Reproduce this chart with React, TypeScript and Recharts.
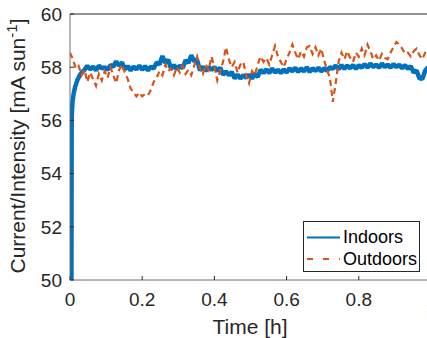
import { LineChart, Line, XAxis, YAxis, ReferenceLine, Legend } from 'recharts';

const FONT = '"Liberation Sans", Arial, sans-serif';
const INDOOR_COLOR = '#0072BD';
const OUTDOOR_COLOR = '#D95319';
const AXIS_TEXT = '#262626';

// x ticks (hours) and y ticks (mA sun^-1)
const timeTicks = [0, 0.2, 0.4, 0.6, 0.8, 1];
const currentTicks = [50, 52, 54, 56, 58, 60];

// indoor start-up transient
const indoorRiseTime = [0.004, 0.0045, 0.005, 0.007, 0.01, 0.014, 0.02, 0.027, 0.034];
const indoorRiseValue = [50, 55.5, 56.2, 56.7, 57.0, 57.25, 57.5, 57.7, 57.82];

// indoor steady part, sampled every 0.008 h from 0.04 h
const indoorStart = 0.04;
const indoorValue = [
  57.9, 58.05, 57.92, 58.02, 57.88, 58.06, 57.95, 58.0, 57.9, 58.08,
  58.02, 58.22, 58.05, 58.18, 57.92, 58.04, 57.88, 58.02, 57.92, 58.06,
  57.9, 58.04, 57.88, 58.02, 57.95, 58.18, 58.1, 58.42, 58.16, 58.28,
  57.94, 58.08, 57.92, 58.06, 57.96, 58.26, 58.16, 58.45, 58.22, 58.28,
  57.88, 58.02, 57.86, 58.0, 57.9, 58.0, 57.86, 57.98, 57.72, 57.84,
  57.7, 57.82, 57.58, 57.72, 57.58, 57.7, 57.6, 57.72, 57.58, 57.74,
  57.64, 57.9, 57.78, 57.92, 57.78, 57.95, 57.8, 57.9, 57.78, 57.92,
  57.8, 57.96, 57.84, 57.98, 57.82, 57.96, 57.84, 58.0, 57.82, 57.96,
  57.86, 57.98, 57.84, 57.96, 57.86, 58.0, 57.94, 58.06, 57.92, 58.08,
  57.94, 58.06, 57.96, 58.08, 57.94, 58.08, 57.98, 58.12, 57.98, 58.14,
  58.0, 58.1, 57.98, 58.14, 58.0, 58.1, 57.98, 58.12, 58.0, 58.1,
  57.96, 58.08, 57.94, 58.04, 57.8, 57.88, 57.58, 57.56, 57.88, 58.0,
];

// outdoor, sampled every 0.008 h from 0 h
const outdoorValue = [
  58.55, 58.3, 57.95, 58.05, 57.7, 57.9, 57.45, 57.8, 57.55, 57.3,
  57.75, 57.5, 57.85, 57.6, 58.0, 57.7, 57.4, 57.9, 58.1, 57.8,
  57.55, 57.2, 57.05, 56.9, 57.05, 56.9, 57.0, 56.95, 57.15, 57.45,
  57.6, 57.85, 57.7, 58.1, 57.85, 57.95, 57.7, 58.0, 57.8, 58.05,
  57.75, 57.9, 57.7, 58.05, 58.4, 57.95, 57.75, 58.1, 57.9, 58.4,
  58.0, 57.5, 57.85, 58.2, 58.75, 58.3, 58.0, 58.2, 57.8, 58.1,
  58.2, 57.7, 57.4, 57.85, 57.7, 58.1, 58.4, 58.2, 58.35, 58.1,
  58.45, 58.8, 58.4, 58.2, 58.0, 58.3, 58.55, 58.85, 58.55, 58.3,
  58.6, 58.4, 58.75, 58.8, 58.5, 58.75, 58.45, 58.7, 58.25, 57.9,
  57.6, 56.7, 57.4, 58.2, 58.55, 58.3, 58.6, 58.35, 58.2, 58.55,
  58.4, 58.7, 58.45, 58.85, 58.6, 58.3, 58.45, 58.25, 58.5, 58.35,
  58.3, 58.55, 58.75, 58.95, 58.85, 58.7, 58.5, 58.55, 58.4, 58.6,
  58.7, 58.45, 58.3, 58.55, 58.7,
];
const SAMPLE_STEP = 0.008;

const indoorData = [
  ...indoorRiseTime.map((t, i) => ({ t, indoors: indoorRiseValue[i] })),
  ...indoorValue.map((v, i) => ({ t: indoorStart + i * SAMPLE_STEP, indoors: v })),
];
const outdoorData = outdoorValue.map((v, i) => ({ t: i * SAMPLE_STEP, outdoors: v }));

function YLabel() {
  return (
    <text
      x={25}
      y={146}
      transform="rotate(-90, 25, 146)"
      textAnchor="middle"
      fontFamily={FONT}
      fontSize={21}
      fill={AXIS_TEXT}
    >
      Current/Intensity [mA sun
      <tspan dy={-8} fontSize={15}>-1</tspan>
      <tspan dy={8}>]</tspan>
    </text>
  );
}

function XLabel() {
  return (
    <text x={250} y={334} textAnchor="middle" fontFamily={FONT} fontSize={21} fill={AXIS_TEXT}>
      Time [h]
    </text>
  );
}

function LegendBox() {
  return (
    <div
      style={{
        position: 'relative',
        width: 117,
        height: 51,
        boxSizing: 'border-box',
        border: '1px solid #262626',
        background: '#fff',
        fontFamily: FONT,
        fontSize: 18,
        color: '#000',
      }}
    >
      <svg width={40} height={51} style={{ position: 'absolute', left: 0, top: 0 }}>
        <line x1={3} x2={36} y1={15.5} y2={15.5} stroke={INDOOR_COLOR} strokeWidth={2} />
        <line x1={3} x2={36} y1={37} y2={37} stroke={OUTDOOR_COLOR} strokeWidth={2} strokeDasharray="6 10" />
      </svg>
      <span style={{ position: 'absolute', left: 39, top: 4, lineHeight: '22px' }}>Indoors</span>
      <span style={{ position: 'absolute', left: 39, top: 26, lineHeight: '22px' }}>Outdoors</span>
    </div>
  );
}

export default function App() {
  return (
    <div
      style={{
        position: 'absolute',
        left: 0,
        top: 0,
        width: 427,
        height: 338,
        overflow: 'hidden',
        background: '#fff',
      }}
    >
      <LineChart width={440} height={338} margin={{ top: 0, right: 9, bottom: 0, left: 0 }}>
        <XAxis
          xAxisId="bottom"
          dataKey="t"
          type="number"
          domain={[0, 1]}
          ticks={timeTicks}
          allowDataOverflow
          height={58}
          tickSize={-4}
          tickMargin={17}
          axisLine={{ stroke: '#6f6f6f' }}
          tickLine={{ stroke: AXIS_TEXT }}
          tick={{ fill: AXIS_TEXT, fontSize: 19, fontFamily: FONT }}
          label={{ content: () => <XLabel /> }}
        />
        <XAxis
          xAxisId="top"
          orientation="top"
          dataKey="t"
          type="number"
          domain={[0, 1]}
          ticks={timeTicks}
          allowDataOverflow
          height={14}
          tickSize={-3}
          axisLine={{ stroke: '#6f6f6f' }}
          tickLine={{ stroke: AXIS_TEXT }}
          tick={false}
        />
        <YAxis
          domain={[50, 60]}
          ticks={currentTicks}
          allowDataOverflow
          width={70}
          tickSize={-4}
          tickMargin={12}
          axisLine={{ stroke: '#6f6f6f' }}
          tickLine={{ stroke: AXIS_TEXT }}
          tick={{ fill: AXIS_TEXT, fontSize: 19, fontFamily: FONT }}
          label={{ content: () => <YLabel /> }}
        />
        <ReferenceLine xAxisId="bottom" y={60} stroke="#6f6f6f" />
        <Line
          xAxisId="bottom"
          data={indoorData}
          dataKey="indoors"
          name="Indoors"
          stroke={INDOOR_COLOR}
          strokeWidth={4.5}
          strokeLinejoin="bevel"
          dot={false}
          type="linear"
          isAnimationActive={false}
        />
        <Line
          xAxisId="bottom"
          data={outdoorData}
          dataKey="outdoors"
          name="Outdoors"
          stroke={OUTDOOR_COLOR}
          strokeWidth={2.2}
          strokeDasharray="6 4"
          dot={false}
          type="linear"
          isAnimationActive={false}
        />
        <Legend
          layout="vertical"
          align="center"
          verticalAlign="middle"
          content={() => <LegendBox />}
          wrapperStyle={{ left: 303, top: 221, width: 117, height: 51 }}
        />
      </LineChart>
    </div>
  );
}
